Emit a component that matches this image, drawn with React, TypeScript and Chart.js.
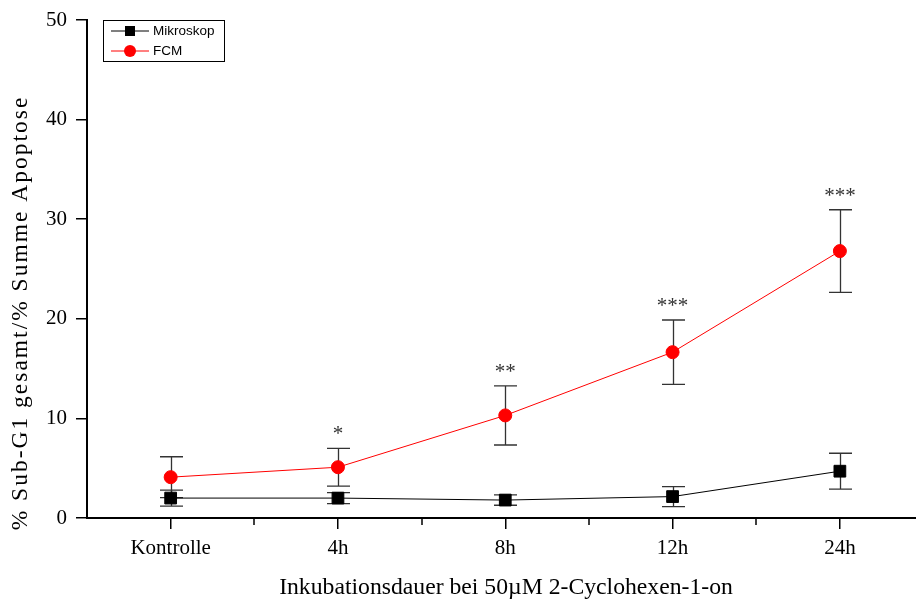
import { useEffect, useRef } from 'react';
import { Chart, registerables } from 'chart.js';

Chart.register(...registerables);

// Incubation time points
const categories = ['Kontrolle', '4h', '8h', '12h', '24h'];

// Microscopy: mean and standard deviation (%)
const mikroskopMean = [2.0, 2.0, 1.8, 2.15, 4.7];
const mikroskopSd = [0.8, 0.55, 0.52, 1.0, 1.8];

// Flow cytometry: mean and standard deviation (%)
const fcmMean = [4.1, 5.1, 10.3, 16.65, 26.8];
const fcmSd = [2.05, 1.9, 2.97, 3.23, 4.15];

// Significance markers above the FCM series
const significance = ['', '*', '**', '***', '***'];

const yTicks = [0, 10, 20, 30, 40, 50];

const SERIF = '"Liberation Serif", "Times New Roman", serif';
const SANS = '"Liberation Sans", Arial, sans-serif';

const overlayPlugin = {
  id: 'overlay',
  beforeDatasetsDraw(chart: any) {
    const { ctx, scales } = chart;
    const xs = scales.x;
    const ys = scales.y;
    ctx.save();
    // error bars
    const drawErr = (means: number[], sds: number[]) => {
      means.forEach((m, i) => {
        const px = Math.round(xs.getPixelForValue(i + 1)) + 0.5;
        const top = ys.getPixelForValue(m + sds[i]);
        const bot = ys.getPixelForValue(m - sds[i]);
        ctx.strokeStyle = '#333';
        ctx.lineWidth = 1.3;
        ctx.beginPath();
        ctx.moveTo(px, top);
        ctx.lineTo(px, bot);
        ctx.moveTo(px - 11.5, top);
        ctx.lineTo(px + 11.5, top);
        ctx.moveTo(px - 11.5, bot);
        ctx.lineTo(px + 11.5, bot);
        ctx.stroke();
      });
    };
    drawErr(mikroskopMean, mikroskopSd);
    drawErr(fcmMean, fcmSd);
    ctx.restore();
  },
  afterDraw(chart: any) {
    const { ctx, scales, chartArea } = chart;
    const xs = scales.x;
    const ys = scales.y;
    ctx.save();

    // minor ticks between categories
    ctx.strokeStyle = '#000';
    ctx.lineWidth = 1.5;
    ctx.beginPath();
    for (let i = 1; i < categories.length; i++) {
      const px = Math.round(xs.getPixelForValue(i + 0.5));
      ctx.moveTo(px, chartArea.bottom);
      ctx.lineTo(px, chartArea.bottom + 7);
    }
    ctx.stroke();

    // significance asterisks
    ctx.fillStyle = '#333';
    ctx.font = `21px ${SERIF}`;
    ctx.textAlign = 'center';
    ctx.textBaseline = 'alphabetic';
    significance.forEach((s, i) => {
      if (!s) return;
      const px = xs.getPixelForValue(i + 1);
      const py = ys.getPixelForValue(fcmMean[i] + fcmSd[i]);
      ctx.fillText(s, px, py - 8);
    });

    // axis titles
    ctx.fillStyle = '#000';
    ctx.font = `23.7px ${SERIF}`;
    ctx.textBaseline = 'middle';
    ctx.fillText('Inkubationsdauer bei 50µM 2-Cyclohexen-1-on', 506, 588);
    ctx.save();
    ctx.translate(21, 313);
    ctx.rotate(-Math.PI / 2);
    ctx.font = `23.5px ${SERIF}`;
    (ctx as any).letterSpacing = '2px';
    ctx.fillText('% Sub-G1 gesamt/% Summe Apoptose', 0, 0);
    (ctx as any).letterSpacing = '0px';
    ctx.restore();

    // legend
    ctx.strokeStyle = '#000';
    ctx.lineWidth = 1;
    ctx.strokeRect(103.5, 20.5, 121, 41);
    const rows = [
      { label: 'Mikroskop', color: '#000', line: '#000', y: 31, shape: 'rect' },
      { label: 'FCM', color: '#ff0000', line: '#ff0000', y: 51, shape: 'circle' },
    ];
    rows.forEach((r) => {
      ctx.strokeStyle = r.line;
      ctx.lineWidth = 1;
      ctx.beginPath();
      ctx.moveTo(111, r.y);
      ctx.lineTo(149, r.y);
      ctx.stroke();
      ctx.fillStyle = r.color;
      if (r.shape === 'rect') {
        ctx.fillRect(125, r.y - 5, 10, 10);
      } else {
        ctx.beginPath();
        ctx.arc(130, r.y, 6, 0, Math.PI * 2);
        ctx.fill();
      }
      ctx.fillStyle = '#000';
      ctx.font = `13.5px ${SANS}`;
      ctx.textAlign = 'left';
      ctx.textBaseline = 'middle';
      ctx.fillText(r.label, 153, r.y + 0.5);
    });

    ctx.restore();
  },
};

export default function App() {
  const canvasRef = useRef<HTMLCanvasElement | null>(null);

  useEffect(() => {
    const canvas = canvasRef.current;
    if (!canvas) return;
    const chart = new Chart(canvas, {
      type: 'line',
      data: {
        datasets: [
          {
            label: 'Mikroskop',
            data: mikroskopMean.map((v, i) => ({ x: i + 1, y: v })),
            borderColor: '#000',
            backgroundColor: '#000',
            borderWidth: 1,
            pointStyle: 'rect',
            pointRadius: 8.3,
            pointBorderWidth: 1,
            pointBorderColor: '#000',
            pointBackgroundColor: '#000',
          },
          {
            label: 'FCM',
            data: fcmMean.map((v, i) => ({ x: i + 1, y: v })),
            borderColor: '#ff0000',
            backgroundColor: '#ff0000',
            borderWidth: 1,
            pointStyle: 'circle',
            pointRadius: 6.5,
            pointBorderWidth: 1,
            pointBorderColor: '#ff0000',
            pointBackgroundColor: '#ff0000',
          },
        ],
      },
      options: {
        responsive: false,
        animation: false,
        devicePixelRatio: 1,
        layout: { autoPadding: false, padding: { top: 20, left: 0, right: 0, bottom: 0 } },
        plugins: {
          legend: { display: false },
          tooltip: { enabled: false },
        },
        elements: { line: { tension: 0 } },
        scales: {
          x: {
            type: 'linear',
            min: 0.5,
            max: 5.455,
            afterBuildTicks: (scale: any) => {
              scale.ticks = categories.map((_, i) => ({ value: i + 1 }));
            },
            afterFit: (scale: any) => {
              scale.height = 83;
              scale.paddingLeft = 0;
              scale.paddingRight = 0;
            },
            ticks: {
              autoSkip: false,
              maxRotation: 0,
              padding: 7,
              color: '#000',
              font: { family: SERIF, size: 21 },
              callback: (v: any) => categories[Math.round(Number(v)) - 1] ?? '',
            },
            grid: {
              drawOnChartArea: false,
              drawTicks: true,
              tickLength: 11,
              color: '#000',
              lineWidth: 1.5,
            },
            border: { display: true, color: '#000', width: 2 },
          },
          y: {
            type: 'linear',
            min: 0,
            max: 50,
            afterBuildTicks: (scale: any) => {
              scale.ticks = yTicks.map((v) => ({ value: v }));
            },
            afterFit: (scale: any) => {
              scale.width = 87;
              scale.paddingTop = 0;
              scale.paddingBottom = 0;
            },
            ticks: {
              padding: 9,
              color: '#000',
              font: { family: SERIF, size: 21 },
            },
            grid: {
              drawOnChartArea: false,
              drawTicks: true,
              tickLength: 11,
              color: '#000',
              lineWidth: 1.5,
            },
            border: { display: true, color: '#000', width: 2 },
          },
        },
      },
      plugins: [overlayPlugin],
    });
    return () => chart.destroy();
  }, []);

  return (
    <div style={{ position: 'fixed', left: 0, top: 0, width: 916, height: 601, background: '#fff' }}>
      <canvas ref={canvasRef} width={916} height={601} style={{ display: 'block' }} />
    </div>
  );
}
